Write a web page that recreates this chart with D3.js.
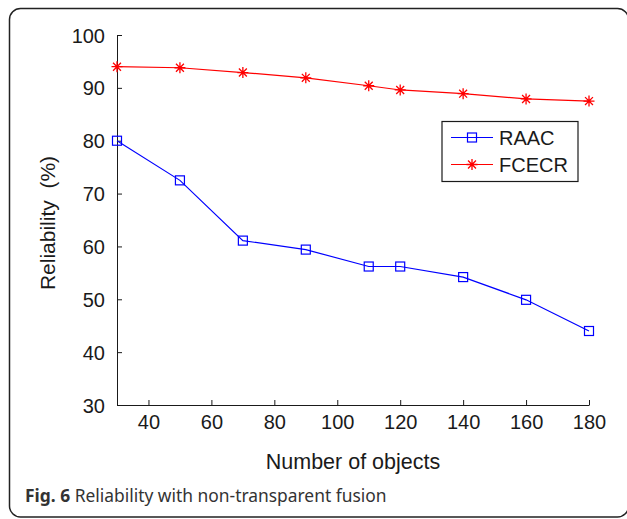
<!DOCTYPE html>
<html>
<head>
<meta charset="utf-8">
<script src="https://cdn.jsdelivr.net/npm/d3@7"></script>
<style>
  body { margin: 0; background: #fff; }
  svg text { font-family: "Liberation Sans", Arial, sans-serif; fill: #1a1a1a; }
</style>
</head>
<body>
<div id="chart"></div>
<script>
// data
var objects = [30, 50, 70, 90, 110, 120, 140, 160, 180];
var raac = [80, 72.5, 61.1, 59.4, 56.2, 56.2, 54.2, 49.9, 44.0];
var fcecr = [94, 93.8, 92.9, 91.9, 90.4, 89.6, 88.9, 87.9, 87.5];
var xTicks = [40, 60, 80, 100, 120, 140, 160, 180];
var yTicks = [30, 40, 50, 60, 70, 80, 90, 100];
var seriesNames = ["RAAC", "FCECR"];
var seriesColors = ["#0000ff", "#ff0000"];

var W = 627, H = 519;
var svg = d3.select("#chart").append("svg")
    .attr("width", W)
    .attr("height", H);

// rounded frame around the figure
svg.append("rect")
    .attr("x", 9.5).attr("y", 8.5)
    .attr("width", W - 8).attr("height", H - 10.5)
    .attr("rx", 11)
    .attr("fill", "none")
    .attr("stroke", "#222")
    .attr("stroke-width", 1.5);

var x = d3.scaleLinear().domain([30, 180]).range([117, 589]);
var y = d3.scaleLinear().domain([30, 100]).range([405, 35]);

var xAxis = svg.append("g")
    .attr("transform", "translate(0," + y(30) + ")")
    .call(d3.axisBottom(x).tickValues(xTicks).tickSizeInner(-5).tickSizeOuter(0).tickPadding(10));
var yAxis = svg.append("g")
    .attr("transform", "translate(" + x(30) + ",0)")
    .call(d3.axisLeft(y).tickValues(yTicks).tickSizeInner(-5).tickSizeOuter(0).tickPadding(12));

[xAxis, yAxis].forEach(function (a) {
    a.select(".domain").attr("stroke", "#1a1a1a");
    a.selectAll(".tick line").attr("stroke", "#1a1a1a");
    a.selectAll(".tick text")
        .attr("font-family", "Liberation Sans, Arial, sans-serif")
        .attr("font-size", 20)
        .attr("fill", "#1a1a1a");
});
yAxis.selectAll(".tick text").attr("dy", "0.35em");

// axis titles
svg.append("text")
    .attr("x", (x(30) + x(180)) / 2)
    .attr("y", 469)
    .attr("text-anchor", "middle")
    .attr("font-size", 21.5)
    .text("Number of objects");
svg.append("text")
    .attr("transform", "translate(55," + ((y(30) + y(100)) / 2 + 3) + ") rotate(-90)")
    .attr("text-anchor", "middle")
    .attr("font-size", 21)
    .attr("xml:space", "preserve")
    .text("Reliability  (%)");

var line = d3.line()
    .x(function (d) { return x(d[0]); })
    .y(function (d) { return y(d[1]); });

function drawSquare(g, cx, cy, color) {
    g.append("rect")
        .attr("x", cx - 4.5).attr("y", cy - 4.5)
        .attr("width", 9).attr("height", 9)
        .attr("fill", "none")
        .attr("stroke", color)
        .attr("stroke-width", 1.2);
}
function drawStar(g, cx, cy, color) {
    var r = 5.5, rd = r * 0.72;
    var p = "M" + (cx - r) + "," + cy + "H" + (cx + r) +
        "M" + cx + "," + (cy - r) + "V" + (cy + r) +
        "M" + (cx - rd) + "," + (cy - rd) + "L" + (cx + rd) + "," + (cy + rd) +
        "M" + (cx - rd) + "," + (cy + rd) + "L" + (cx + rd) + "," + (cy - rd);
    g.append("path").attr("d", p)
        .attr("stroke", color)
        .attr("stroke-width", 1.3)
        .attr("fill", "none");
}

var allSeries = [raac, fcecr];
var markers = [drawSquare, drawStar];
allSeries.forEach(function (vals, i) {
    var pts = objects.map(function (o, j) { return [o, vals[j]]; });
    var g = svg.append("g");
    g.append("path")
        .datum(pts)
        .attr("d", line)
        .attr("fill", "none")
        .attr("stroke", seriesColors[i])
        .attr("stroke-width", 1.2);
    pts.forEach(function (p) {
        markers[i](g, x(p[0]), y(p[1]), seriesColors[i]);
    });
});

// legend
var lg = svg.append("g");
lg.append("rect")
    .attr("x", 442).attr("y", 121.5)
    .attr("width", 136).attr("height", 60)
    .attr("fill", "#fff")
    .attr("stroke", "#1a1a1a")
    .attr("stroke-width", 1.2);
seriesNames.forEach(function (name, i) {
    var ly = 137.5 + i * 27;
    lg.append("line")
        .attr("x1", 451).attr("x2", 493)
        .attr("y1", ly).attr("y2", ly)
        .attr("stroke", seriesColors[i])
        .attr("stroke-width", 1.2);
    markers[i](lg, 472, ly, seriesColors[i]);
    lg.append("text")
        .attr("x", 499).attr("y", ly)
        .attr("dy", "0.35em")
        .attr("font-size", 20)
        .text(name);
});

// caption
var cap = svg.append("text")
    .attr("x", 25).attr("y", 502)
    .attr("font-size", 17.4)
    .style("font-family", "'Noto Sans', 'Open Sans', sans-serif")
    .style("fill", "#333");
cap.append("tspan").attr("font-weight", "bold").text("Fig. 6");
cap.append("tspan").text(" Reliability with non-transparent fusion");
</script>
</body>
</html>
